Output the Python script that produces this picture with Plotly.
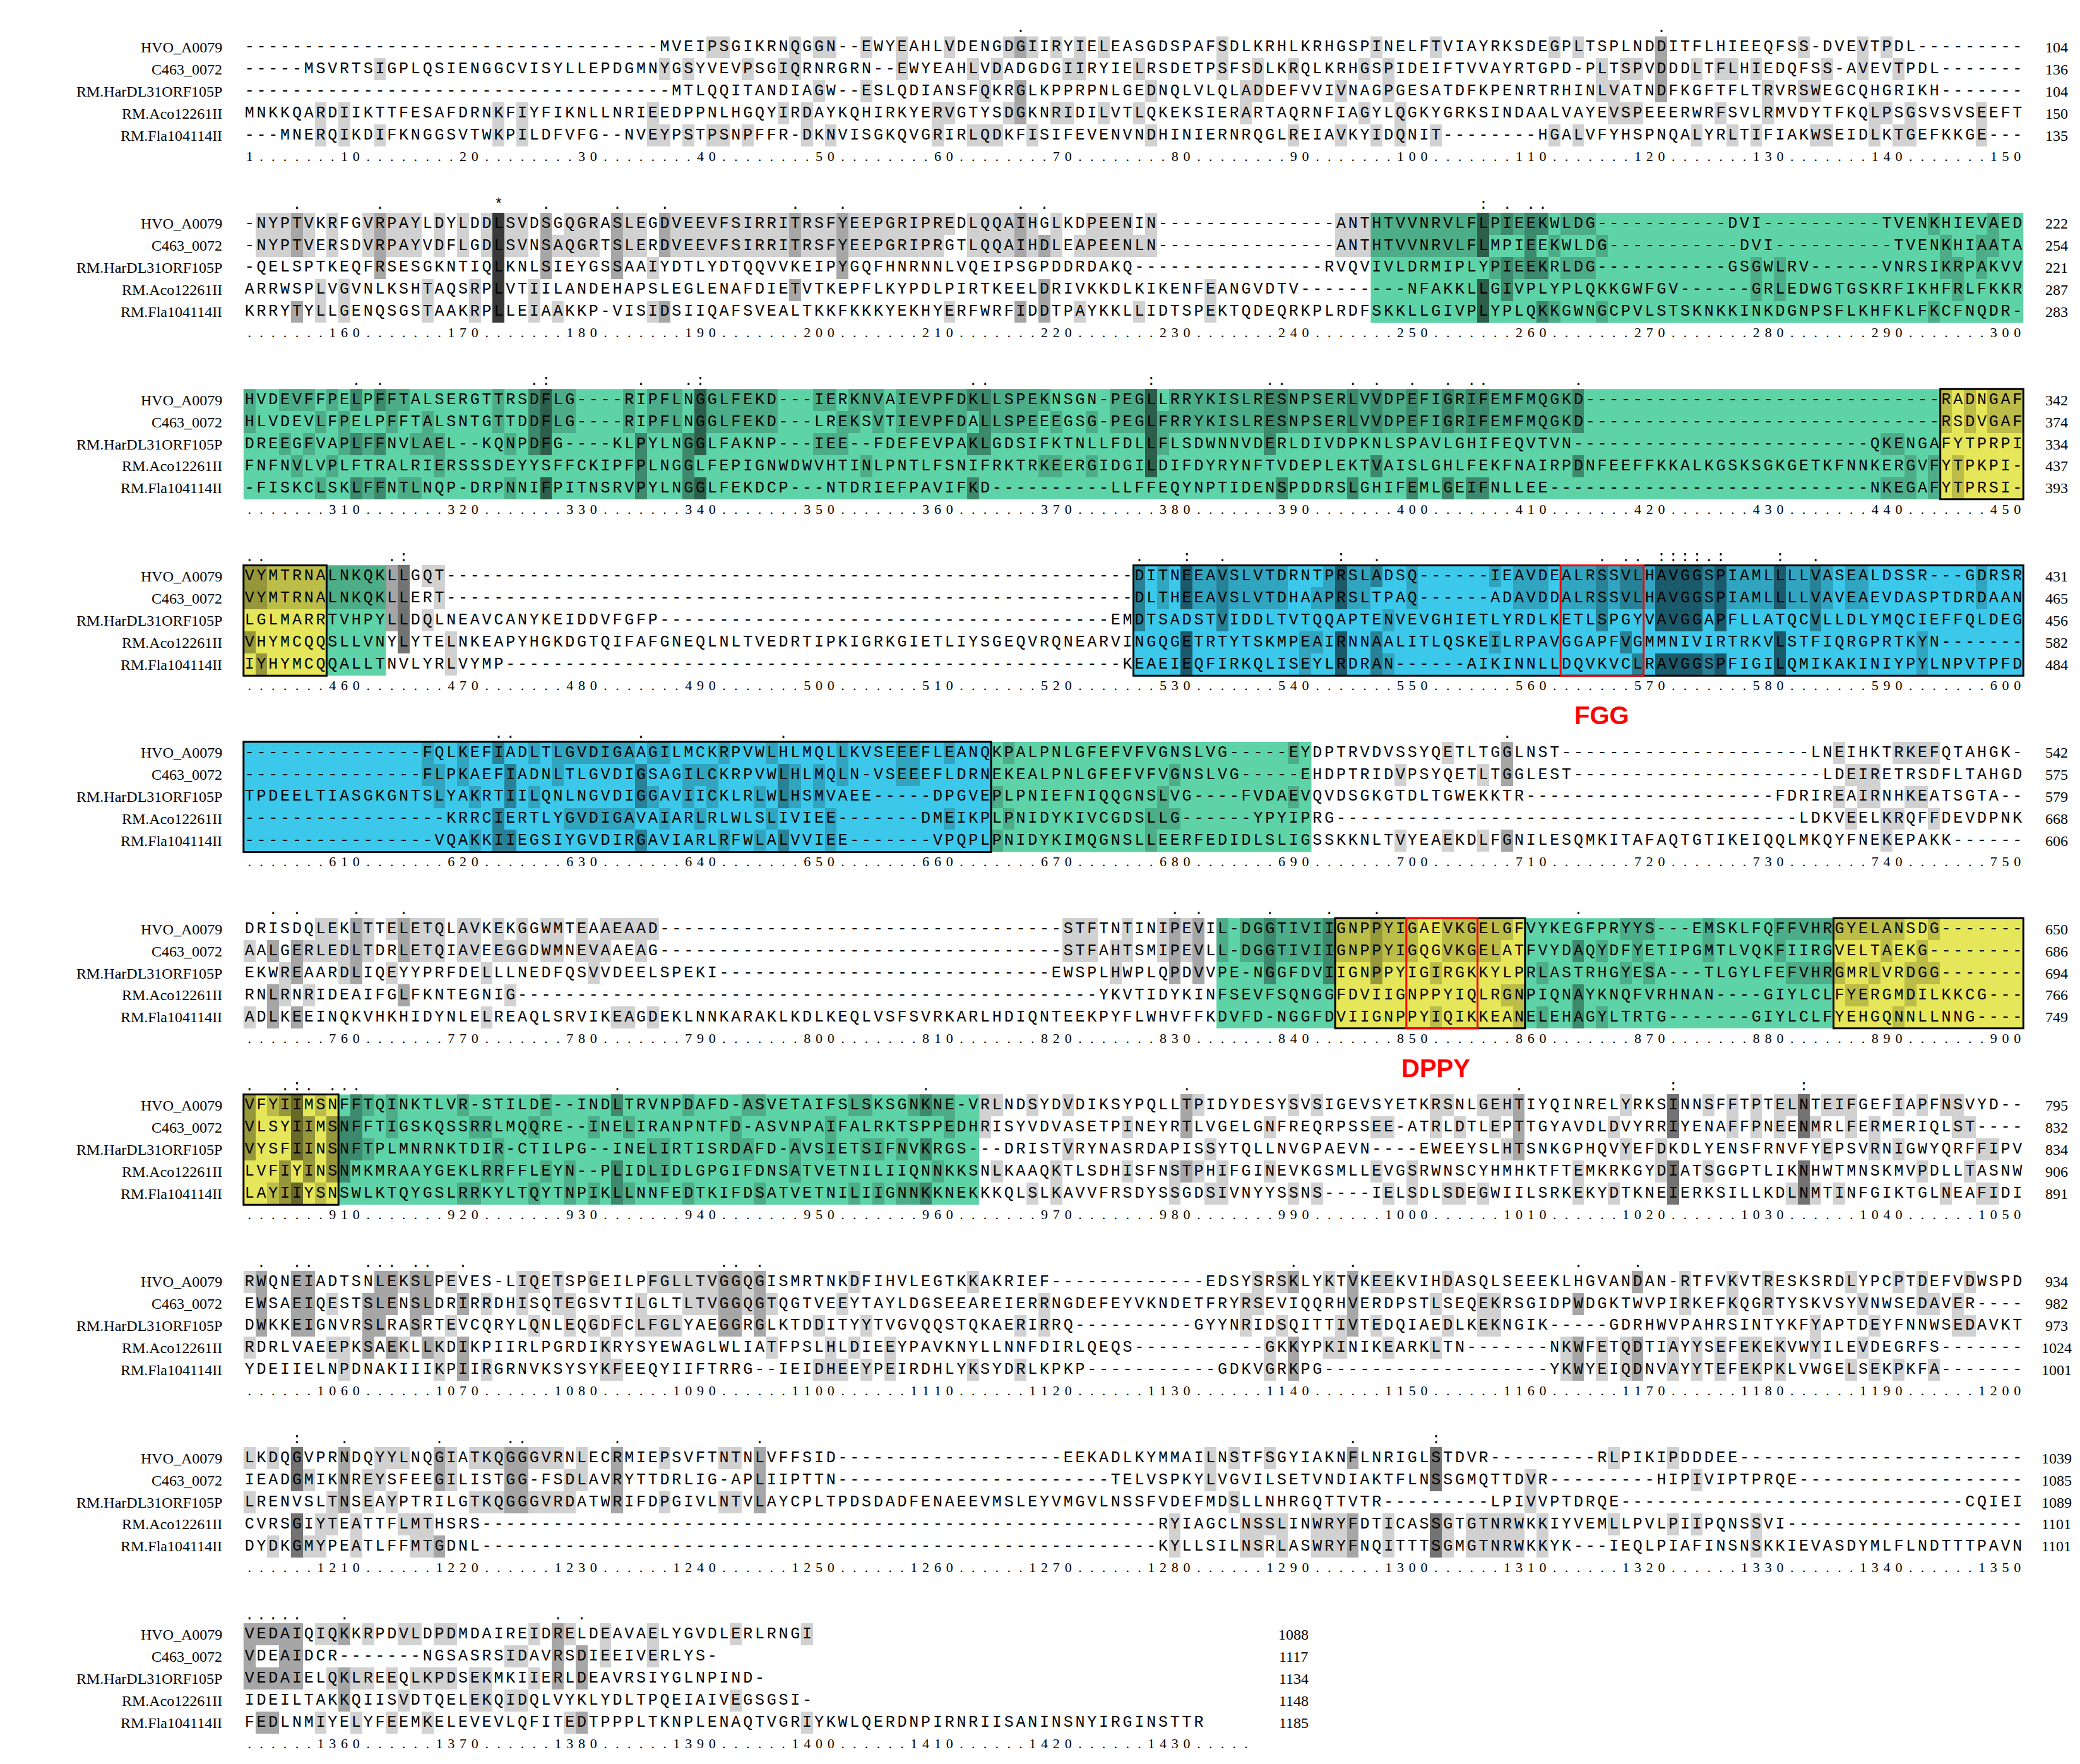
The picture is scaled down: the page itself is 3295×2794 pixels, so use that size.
import numpy as np
import plotly.graph_objects as go
from collections import Counter

names = ["HVO_A0079", "C463_0072", "RM.HarDL31ORF105P", "RM.Aco12261II", "RM.Fla104114II"]

block1 = [
    "-----------------------------------MVEIPSGIKRNQGGN--EWYEAHLVDENGDGIIRYIELEASGDSPAFSDLKRHLKRHGSPINELFTVIAYRKSDEGPLTSPLNDDITFLHIEEQFSS-DVEVTPDL------",
    "-----MSVRTSIGPLQSIENGGCVISYLLEPDGMNYGSYVEVPSGIQRNRGRN--EWYEAHLVDADGDGIIRYIELRSDETPSFSDLKRQLKRHGSPIDEIFTVVAYRTGPD-PLTSPVDDDLTFLHIEDQFSS-AVEVTPDL------",
    "------------------------------------MTLQQITANDIAGW--ESLQDIANSFQKRGLKPPRPNLGEDNQLVLQLADDEFVVIVNAGPGESATDFKPENRTRHINLVATNDFKGFTFLTRVRSWEGCQHGRIKH-----",
    "MNKKQARDIIKTTFESAFDRNKFIYFIKNLLNRIEEDPPNLHGQYIRDAYKQHIRKYERVGTYSDGKNRIDILVTLQKEKSIERARTAQRNFIAGYLQGKYGRKSINDAALVAYEVSPEEERWRFSVLRMVDYTFKQLPSGSVSVSEEFTP",
    "---MNERQIKDIFKNGGSVTWKPILDFVFG--NVEYPSTPSNPFFR-DKNVISGKQVGRIRLQDKFISIFEVENVNDHINIERNRQGLREIAVKYIDQNIT--------HGALVFYHSPNQALYRLTIFIAKWSEIDLKTGEFKKGE---IQ",
]
block2 = [
    "-NYPTVKRFGVRPAYLDYLDDLSVDSGQGRASLEGDVEEVFSIRRITRSFYEEPGRIPREDLQQAIHGLKDPEENIN---------------ANTHTVVNRVLFLPIEEKWLDG-----------DVI----------TVENKHIEVAEDPDM",
    "-NYPTVERSDVRPAYVDFLGDLSVNSAQGRTSLERDVEEVFSIRRITRSFYEEPGRIPRGTLQQAIHDLEAPEENLN---------------ANTHTVVNRVLFLMPIEEKWLDG-----------DVI----------TVENKHIAATADPDK",
    "-QELSPTKEQFRSESGKNTIQLKNLSIEYGSSAAIYDTLYDTQQVVKEIPYGQFHNRNNLVQEIPSGPDDRDAKQ----------------RVQVIVLDRMIPLYPIEEKRLDG-----------GSGWLRV------VNRSIKRPAKVVEKSS-",
    "ARRWSPLVGVNLKSHTAQSRPLVTIILANDEHAPSLEGLENAFDIETVTKEPFLKYPDLPIRTKEELDRIVKKDLKIKENFEANGVDTV---------NFAKKLLGIVPLYPLQKKGWFGV------GRLEDWGTGSKRFIKHFRLFKKRCQYN-",
    "KRRYTYLLGENQSGSTAAKRPLLEIAAKKP-VISIDSIIQAFSVEALTKKFKKKYEKHYERFWRFIDDTPAYKKLLIDTSPEKTQDEQRKPLRDFSKKLLGIVPLYPLQKKGWNGCPVLSTSKNKKINKDGNPSFLKHFKLFKCFNQDR-",
]
block3 = [
    "HVDEVFFPELPFFTALSERGTTRSDFLG----RIPFLNGGLFEKD---IERKNVAIEVPFDKLLSPEKNSGN-PEGLLRRYKISLRESNPSERLVVDPEFIGRIFEMFMQGKD------------------------------RADNGAFYTPKPI",
    "HLVDEVLFPELPFFTALSNTGTTDDFLG----RIPFLNGGLFEKD---LREKSVTIEVPFDALLSPEEEGSG-PEGLFRRYKISLRESNPSERLVVDPEFIGRIFEMFMQGKD------------------------------RSDVGAFYTPRPI",
    "DREEGFVAPLFFNVLAEL--KQNPDFG----KLPYLNGGLFAKNP---IEE--FDEFEVPAKLGDSIFKTNLLFDLLFLSDWNNVDERLDIVDPKNLSPAVLGHIFEQVTVN-------------------------QKENGAFYTPRPI",
    "FNFNVLVPLFTRALRIERSSSDEYYSFFCKIPFPLNGGLFEPIGNWDWVHTINLPNTLFSNIFRKTRKEERGIDGILDIFDYRYNFTVDEPLEKTVAISLGHLFEKFNAIRPDNFEEFFKKALKGSKSGKGETKFNNKERGVFYTPKPI",
    "-FISKCLSKLFFNTLNQP-DRPNNIFPITNSRVPYLNGGLFEKDCP---NTDRIEFPAVIFKD----------LLFFEQYNPTIDENSPDDRSLGHIFEMLGEIFNLLEE---------------------------NKEGAFYTPRSI",
]
block4 = [
    "VYMTRNALNKQKLLGQT----------------------------------------------------------DITNEEAVSLVTDRNTPRSLADSQ------IEAVDEALRSSVLHAVGGSPIAMLLLLVASEALDSSR---GDRSR-----",
    "VYMTRNALNKQKLLERT----------------------------------------------------------DLTHEEAVSLVTDHAAPRSLTPAQ------ADAVDDALRSSVLHAVGGSPIAMLLLLVAVEAEVDASPTDRDAANDR--",
    "LGLMARRTVHPYLLDQLNEAVCANYKEIDDVFGFP--------------------------------------EMDTSADSTVIDDLTVTQQAPTENVEVGHIETLYRDLKETLSPGYVAVGGAPFLLATQCVLLDLYMQCIEFFQLDEGKGWLES",
    "VHYMCQQSLLVNYLYTELNKEAPYHGKDGTQIFAFGNEQLNLTVEDRTIPKIGRKGIETLIYSGEQVRQNEARVINGQGETRTYTSKMPEAIRNNAALITLQSKEILRPAVGGAPFVGMMNIVIRTRKVLSTFIQRGPRTKYN",
    "IYHYMCQQALLTNVLYRLVYMP----------------------------------------------------KEAEIEQFIRKQLISEYLRDRAN------AIKINNLLDQVKVCLRAVGGSPFIGILQMIKAKINIYPYLNPVTPFDP-----",
]
block5 = [
    "---------------FQLKEFIADLTLGVDIGAAGILMCKRPVWLHLMQLLKVSEEEFLEANQKPALPNLGFEFVFVGNSLVG-----EYDPTRVDVSSYQETLTGGLNST---------------------LNEIHKTRKEFQTAHGK-NK",
    "---------------FLPKAEFIADNLTLGVDIGSAGILCKRPVWLHLMQLN-VSEEEFLDRNEKEALPNLGFEFVFVGNSLVG-----EHDPTRIDVPSYQETLTGGLEST---------------------LDEIRETRSDFLTAHGD-EK",
    "TPDEELTIASGKGNTSLYAKRTIILQNLNGVDIGGAVIICKLRLWLHSMVAEE-----DPGVEPLPNIEFNIQQGNSLVG----FVDAEVQVDSGKGTDLTGWEKKTR---------------------FDRIREAIRNHKEATSGTA-",
    "-----------------KRRCIERTLYGVDIGAVAIARLRLWLSLIVIEE-------DMEIKPLPNIDYKIVCGDSLLG------YPYIPRG---------------------------------------LDKVEELKRQFFDEVDPNK",
    "----------------VQAKKIIEGSIYGVDIRGAVIARLRFWLALVVIEE-------VPQPLPNIDYKIMQGNSLLEERFEDIDLSLIGSSKKNLTVYEAEKDLFGNILESQMKITAFAQTGTIKEIQQLMKQYFNEKEPAKK",
]
block6 = [
    "DRISDQLEKLTTELETQLAVKEKGGWMTEAAEAAD----------------------------------STFTNTINIPEVIL-DGGTIVIIGNPPYIGAEVKGELGFVYKEGFPRYYS---EMSKLFQFFVHRGYELANSDG",
    "AALGERLEDLTDRLETQIAVEEGGDWMNEVAAEAG----------------------------------STFAHTSMIPEVLL-DGGTIVIIGNPPYIGQGVKGELATFVYDAQYDFYETIPGMTLVQKFIIRGVELTAEKG",
    "EKWREAARDLIQEYYPRFDELLLNEDFQSVVDEELSPEKI----------------------------EWSPLHWPLQPDVVPE-NGGFDVIIGNPPYIGIRGKKYLPRLASTRHGYESA---TLGYLFEFVHRGMRLVRDGG",
    "RNLRNRIDEAIFGLFKNTEGNIG-------------------------------------------------YKVTIDYKINFSEVFSQNGGFDVIIGNPPYIQLRGNPIQNAYKNQFVRHNAN----GIYLCLFYERGMDILKKCG",
    "ADLKEEINQKVHKHIDYNLELREAQLSRVIKEAGDEKLNNKARAKLKDLKEQLVSFSVRKARLHDIQNTEEKPYFLWHVFFKDVFD-NGGFDVIIGNPPYIQIKKEANELEHAGYLTRTG-------GIYLCLFYEHGQNNLLNNG",
]
block7 = [
    "VFYIIMSNFFTQINKTLVR-STILDE--INDLTRVNPDAFD-ASVETAIFSLSKSGNKNE-VRLNDSYDVDIKSYPQLLTPIDYDESYSVSIGEVSYETKRSNLGEHTIYQINRELYRKSINNSFFTPTELNTEIFGEFIAPFNSVYD",
    "VLSYIIMSNFFTIGSKQSSRRLMQQRE--INELIRANPNTFD-ASVNPAIFALRKTSPPEDHRISYVDVASETPINEYRTLVGELGNFREQRPSSEE-ATRLDTLEPTTGYAVDLDVYRRIYENAFFPNEENMRLFERMERIQLST",
    "VYSFIINSNFTPLMNRNKTDIR-CTILPG--INELIRTISRDAFD-AVSIETSIFNVKRGS---DRISTVRYNASRDAPISSYTQLLNVGPAEVN----EWEEYSLHTSNKGPHQVYEFDKDLYENSFRNVFYEPSVRNIGWYQRFFIPVMCTYA",
    "LVFIYINSNMKMRAAYGEKLRRFFLEYN--PLIDLIDLGPGIFDNSATVETNILIIQNNKKSNLKAAQKTLSDHISFNSTPHIFGINEVKGSMLLEVGSRWNSCYHMHKTFTEMKRKGYDIATSGGPTLIKNHWTMNSKMVPDLLTASNW",
    "LAYIIYSNSWLKTQYGSLRRKYLTQYTNPIKLLNNFEDTKIFDSATVETNILIIGNNKKNEKKKQLSLKAVVFRSDYSSGDSIVNYYSSNS----IELSDLSDEGWIILSRKEKYDTKNEIERKSILLKDLNMTINFGIKTGLNEAFIDIKT",
]
block8 = [
    "RWQNEIADTSNLEKSLPEVES-LIQETSPGEILPFGLLTVGGQGISMRTNKDFIHVLEGTKKAKRIEF-------------EDSYSRSKLYKTVKEEKVIHDASQLSEEEKLHGVANDAN-RTFVKVTRESKSRDLYPCPTDEFVDWSPDNVDK",
    "EWSAEIQESTSLENSLDRIRRDHISQTEGSVTILGLTLTVGGQGTQGTVEEYTAYLDGSEEAREIERRNGDEFEYVKNDETFRYRSEVIQQRHVERDPSTLSEQEKRSGIDPWDGKTWVPIRKEFKQGRTYSKVSYVNWSEDAVER",
    "DWKKEIGNVRSLRASRTEVCQRYLQNLEQGDFCLFGLYAEGGRGLKTDDITYYTVGVQQSTQKAERIRRQ----------GYYNRIDSQITTIVTEDQIAEDLKEKNGIK-----GDRHWVPAHRSINTYKFYAPTDEYFNNWSEDAVKTVE",
    "RDRLVAEEPKSAEKLLKDIKPIIRLPGRDIKRYSYEWAGLWLIATFPSLHLDIEEYPAVKNYLLNNFDIRLQEQS-----------GKKYPKINIKEARKLTN-------NKWFETQDTIAYYSEFEKEKVWYILEVDEGRFS",
    "YDEIIELNPDNAKIIIKPIIRGRNVKSYSYKFEEQYIIFTRRG--IEIDHEEYPEIRDHLYKSYDRLKPKP-----------GDKVGRKPG-------------------YKWYEIQDNVAYYTEFEKPKLVWGELSEKPKFA",
]
block9 = [
    "LKDQGVPRNDQYYLNQGIATKQGGGVRNLECRMIEPSVFTNTNLVFFSID-------------------EEKADLKYMMAILNSTFSGYIAKNFLNRIGLSTDVR---------RLPIKIPDDDEE-----------------------------EKIVGL",
    "IEADGMIKNREYSFEEGILISTGG-FSDLAVRYTTDRLIG-APLIIPTTN-----------------------TELVSPKYLVGVILSETVNDIAKTFLNSSGMQTTDVR---------HIPIVIPTPRQE-----------------------------SSVESL",
    "LRENVSLTNSEAYPTRILGTKQGGGVRDATWRIFDPGIVLNTVLAYCPLTPDSDADFENAEEVMSLEYVMGVLNSSFVDEFMDSLLNHRGQTTVTR---------LPIVVPTDRQE-----------------------------CQIEII",
    "CVRSGIYTEATTFLMTHSRS---------------------------------------------------------RYIAGCLNSSLINWRYFDTICASSGTGTNRWKKIYVEMLLPVLPIIPQNSSVI--------------------------DKIEEL",
    "DYDKGMYPEATLFFMTGDNL---------------------------------------------------------KYLLSILNSRLASWRYFNQITTTSGMGTNRWKKYK---IEQLPIAFINSNSKKIEVASDYMLFLNDTTTPAVNSYTENENIAQV",
]
block10 = [
    "VEDAIQIQKKRPDVLDPDMDAIREIDRELDEAVAELYGVDLERLRNGI",
    "VDEAIDCR-------NGSASRSIDAVRSDIEEIVERLYS-",
    "VEDAIELQKLREEQLKPDSEKMKIIERLDEAVRSIYGLNPIND-",
    "IDEILTAKKQIISVDTQELEKQIDQLVYKLYDLTPQEIAIVEGSGSI-",
    "FEDLNMIYELYFEEMKELEVEVLQFITEDTPPPLTKNPLENAQTVGRIYKWLQERDNPIRNRIISANINSNYIRGINSTTR",
]
blocks = [block1, block2, block3, block4, block5, block6, block7, block8, block9, block10]

end_numbers = [
    [104, 136, 104, 150, 135], [222, 254, 221, 287, 283], [342, 374, 334, 437, 393],
    [431, 465, 456, 582, 484], [542, 575, 579, 668, 606], [650, 686, 694, 766, 749],
    [795, 832, 834, 906, 891], [934, 982, 973, 1024, 1001], [1039, 1085, 1089, 1101, 1101],
    [1088, 1117, 1134, 1148, 1185],
]
last_block_len = 85

# alignment column ranges (absolute positions)
green_regions = [(246, 443), (458, 462), (664, 690), (833, 842), (859, 884), (909, 962)]
yellow_boxes = [(444, 457), (843, 858), (885, 908)]
cyan_boxes = [(526, 663)]
red_boxes = [(562, 568), (849, 854)]
motif_labels = [("FGG", 565), ("DPPY", 851)]

BLOCK = 150
ROWS_PER_BLOCK = 8

fig = go.Figure()


def split_range(a, b):
    out = []
    for bi in range(len(blocks)):
        lo, hi = bi * BLOCK + 1, (bi + 1) * BLOCK
        s, e = max(a, lo), min(b, hi)
        if s <= e:
            out.append((bi, s - bi * BLOCK, e - bi * BLOCK))
    return out


def add_boxes(regions, fill, line):
    for a, b in regions:
        for bi, s, e in split_range(a, b):
            y0 = bi * ROWS_PER_BLOCK - 0.5
            fig.add_shape(type="rect", x0=s - 0.5, x1=e + 0.5, y0=y0, y1=y0 + 5,
                          fillcolor=fill, line=line, layer="below" if fill else "above")


add_boxes(green_regions, "#5fd3a8", dict(width=0))
add_boxes(yellow_boxes, "#e6e65a", dict(width=0))
add_boxes(cyan_boxes, "#3cc8ea", dict(width=0))
add_boxes(yellow_boxes, None, dict(color="black", width=3))
add_boxes(cyan_boxes, None, dict(color="black", width=3))
add_boxes(red_boxes, None, dict(color="red", width=3))

# conservation shading + text
nrows = ROWS_PER_BLOCK * len(blocks)
z = np.full((nrows, BLOCK), np.nan)
rx, ry, rt = [], [], []
cx, cy, ct = [], [], []
ux, uy, ut = [], [], []
for bi, blk in enumerate(blocks):
    width = BLOCK if bi < len(blocks) - 1 else last_block_len
    seqs = [s[:BLOCK].ljust(width if bi < len(blocks) - 1 else len(s), "-") for s in blk]
    base = bi * ROWS_PER_BLOCK
    for c in range(BLOCK):
        col = [s[c] for s in seqs if c < len(s)]
        res = [ch for ch in col if ch != "-"]
        if res:
            top, n = Counter(res).most_common(1)[0]
            if len(col) == 5 and n >= 3:
                ct.append({5: "*", 4: ":", 3: "."}[n]); cx.append(c + 1); cy.append(base - 1)
            if n >= 2:
                for r, s in enumerate(seqs):
                    if c < len(s) and s[c] == top:
                        z[base + r, c] = n - 1
    for r, s in enumerate(seqs):
        for c, ch in enumerate(s):
            rx.append(c + 1); ry.append(base + r); rt.append(ch)
    # ruler
    ruler = ["."] * width
    start = bi * BLOCK
    for c in range(width):
        pos = start + c + 1
        if pos % 10 == 0 or pos == 1:
            lab = str(pos)
            for k, d in enumerate(lab):
                idx = c - len(lab) + 1 + k
                if 0 <= idx < width:
                    ruler[idx] = d
    for c, ch in enumerate(ruler):
        ux.append(c + 1); uy.append(base + 5); ut.append(ch)

fig.add_trace(go.Heatmap(
    x=list(range(1, BLOCK + 1)), y=list(range(nrows)), z=z, zmin=0.5, zmax=4.5,
    colorscale=[[0, "rgba(0,0,0,0.18)"], [0.25, "rgba(0,0,0,0.18)"], [0.251, "rgba(0,0,0,0.35)"],
                [0.5, "rgba(0,0,0,0.35)"], [0.501, "rgba(0,0,0,0.55)"], [0.75, "rgba(0,0,0,0.55)"],
                [0.751, "rgba(0,0,0,0.78)"], [1, "rgba(0,0,0,0.78)"]],
    showscale=False, hoverinfo="skip", xgap=0, ygap=0))

mono = "Liberation Mono"
fig.add_trace(go.Scatter(x=rx, y=ry, text=rt, mode="text",
                         textfont=dict(family=mono, size=25, color="black"), hoverinfo="skip"))
fig.add_trace(go.Scatter(x=cx, y=[v + 0.15 for v in cy], text=ct, mode="text",
                         textfont=dict(family=mono, size=24, color="black"), hoverinfo="skip"))
fig.add_trace(go.Scatter(x=ux, y=uy, text=ut, mode="text",
                         textfont=dict(family="Liberation Serif", size=22, color="black"), hoverinfo="skip"))

serif = "Liberation Serif"
for bi in range(len(blocks)):
    for r, name in enumerate(names):
        y = bi * ROWS_PER_BLOCK + r
        fig.add_annotation(x=-1.2, y=y, text=name, showarrow=False, xanchor="right",
                           font=dict(family=serif, size=24, color="black"))
        xe = 153.3 if bi < len(blocks) - 1 else last_block_len + 4
        fig.add_annotation(x=xe, y=y, text=str(end_numbers[bi][r]), showarrow=False,
                           xanchor="center", font=dict(family=serif, size=24, color="black"))

for lab, pos in motif_labels:
    bi = (pos - 1) // BLOCK
    fig.add_annotation(x=pos - bi * BLOCK, y=bi * ROWS_PER_BLOCK + 6.3, text="<b>%s</b>" % lab,
                       showarrow=False, font=dict(family="Liberation Sans", size=40, color="red"))

fig.update_layout(
    width=3295, height=2794, margin=dict(l=0, r=0, t=0, b=0),
    plot_bgcolor="white", paper_bgcolor="white", showlegend=False,
    xaxis=dict(range=[-19.6, 155.7], visible=False),
    yaxis=dict(range=[78.1, -1.92], visible=False),
)
fig.write_html("out.html")
